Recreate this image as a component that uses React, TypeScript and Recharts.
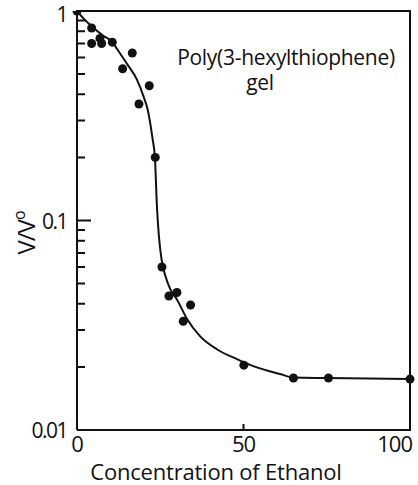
import React from 'react';
import { ComposedChart, Line, Scatter, XAxis, YAxis } from 'recharts';

const ethanolPct = [0, 4.4, 4.4, 6.9, 7.4, 10.6, 13.7, 16.6, 18.6, 21.7, 23.5, 25.5, 27.6, 30.0, 31.9, 34.1, 50.1, 65, 75.5, 100];
const volumeRatio = [1, 0.83, 0.7, 0.74, 0.7, 0.71, 0.53, 0.63, 0.36, 0.44, 0.2, 0.06, 0.0436, 0.0453, 0.033, 0.0395, 0.0204, 0.0177, 0.0177, 0.0175];

// hand drawn guide curve
const curveEthanol = [0, 2, 5, 8, 10.7, 12, 15, 18, 20, 21.2, 22.7, 23.4, 24, 24.6, 25.4, 26.6, 28, 30, 33, 37, 42, 48, 54, 61, 65, 75, 100];
const curveRatio = [1, 0.92, 0.83, 0.76, 0.71, 0.66, 0.56, 0.47, 0.39, 0.34, 0.245, 0.2, 0.117, 0.084, 0.065, 0.054, 0.047, 0.042, 0.034, 0.028, 0.0243, 0.0218, 0.0199, 0.0185, 0.0178, 0.0177, 0.0175];

const yMajor = [0.01, 0.1, 1];
const yMajorLabels = ['0.01', '0.1', '1'];
const yMinor = [0.02, 0.03, 0.04, 0.05, 0.06, 0.07, 0.08, 0.09, 0.2, 0.3, 0.4, 0.5, 0.6, 0.7, 0.8, 0.9];
const yInnerMajor = [0.1];
const xTicks = [0, 50, 100];
const xInner = [50];

const points = ethanolPct.map((x, i) => ({ x, y: volumeRatio[i] }));
const curve = curveEthanol.map((x, i) => ({ x, y: curveRatio[i] }));

// inward tick marks, placed through the chart scales
const minorMarks = yMinor.map((y) => ({ x: 0, y }));
const majorMarks = yInnerMajor.map((y) => ({ x: 0, y }));
const xMarks = xInner.map((x) => ({ x, y: 0.01 }));

const FONT = '"Open Sans", sans-serif';
const INK = '#111';

const near = (a: number, b: number) => Math.abs(a - b) < 1e-6;

const yLabel = (props: any) => {
  const v = Number(props.payload.value);
  const idx = yMajor.findIndex((m) => near(m, v));
  if (idx < 0) return <g />;
  return (
    <text x={props.x - 10} y={props.y} dy={idx === 2 ? 11 : 8} textAnchor="end" fontFamily={FONT} fontSize={21} letterSpacing={-1.5} fill={INK}>
      {yMajorLabels[idx]}
    </text>
  );
};

const xLabel = (props: any) => {
  const v = Number(props.payload.value);
  const last = near(v, 100);
  return (
    <text x={last ? props.x + 2 : props.x} y={props.y} dy={22} textAnchor={last ? 'end' : 'middle'} fontFamily={FONT} fontSize={22} letterSpacing={-1} fill={INK}>
      {String(v)}
    </text>
  );
};

const hMark = (len: number) => (p: any) => <path d={`M${p.cx},${p.cy}h${len}`} stroke={INK} strokeWidth={2} fill="none" />;
const vMark = (p: any) => <path d={`M${p.cx},${p.cy}v-6`} stroke={INK} strokeWidth={2} fill="none" />;

export default function App() {
  return (
    <div style={{ position: 'absolute', left: 0, top: 0, width: 418, height: 485 }}>
      <ComposedChart width={418} height={485} margin={{ top: 11, right: 8, bottom: 25, left: 0 }}>
        <XAxis
          dataKey="x"
          type="number"
          domain={[0, 100]}
          ticks={xTicks}
          interval={0}
          tick={xLabel}
          tickLine={false}
          tickSize={0}
          tickMargin={0}
          height={30}
          axisLine={{ stroke: INK, strokeWidth: 2 }}
        />
        <YAxis
          type="number"
          scale="log"
          domain={[0.01, 1]}
          allowDataOverflow
          ticks={yMajor}
          interval={0}
          tick={yLabel}
          tickLine={false}
          tickSize={0}
          tickMargin={0}
          width={77}
          axisLine={{ stroke: INK, strokeWidth: 2 }}
        />
        <Scatter data={minorMarks} dataKey="y" isAnimationActive={false} shape={hMark(8)} />
        <Scatter data={majorMarks} dataKey="y" isAnimationActive={false} shape={hMark(14)} />
        <Scatter data={xMarks} dataKey="y" isAnimationActive={false} shape={vMark} />
        <Line data={curve} dataKey="y" type="monotone" stroke={INK} strokeWidth={2} dot={false} isAnimationActive={false} />
        <Scatter
          data={points}
          dataKey="y"
          isAnimationActive={false}
          shape={(p: any) => <circle cx={p.cx} cy={p.cy} r={4.5} fill={INK} />}
        />
      </ComposedChart>
      {/* top and right edges of the plot frame */}
      <div
        style={{
          position: 'absolute',
          left: 76,
          top: 10,
          width: 333,
          height: 419,
          borderTop: `2px solid ${INK}`,
          borderRight: `2px solid ${INK}`,
          pointerEvents: 'none',
        }}
      />
      <div
        style={{
          position: 'absolute',
          left: 0,
          top: 208,
          width: 50,
          height: 50,
          display: 'flex',
          alignItems: 'center',
          justifyContent: 'center',
          transform: 'rotate(-90deg)',
          fontFamily: FONT,
          fontSize: 24,
          letterSpacing: -1,
          color: INK,
          whiteSpace: 'nowrap',
        }}
      >
        V/V<span style={{ fontSize: 16, position: 'relative', top: -6 }}>o</span>
      </div>
      <div
        style={{
          position: 'absolute',
          left: 70,
          top: 459,
          width: 292,
          textAlign: 'center',
          fontFamily: FONT,
          fontSize: 22,
          letterSpacing: -0.2,
          lineHeight: '24px',
          color: INK,
        }}
      >
        Concentration of Ethanol
      </div>
      <div
        style={{
          position: 'absolute',
          left: 168,
          top: 45,
          width: 236,
          fontFamily: FONT,
          fontSize: 21,
          letterSpacing: -0.3,
          lineHeight: '25px',
          color: INK,
          textAlign: 'center',
        }}
      >
        Poly(3-hexylthiophene)
        <br />
        <span style={{ position: 'relative', left: -26 }}>gel</span>
      </div>
    </div>
  );
}
